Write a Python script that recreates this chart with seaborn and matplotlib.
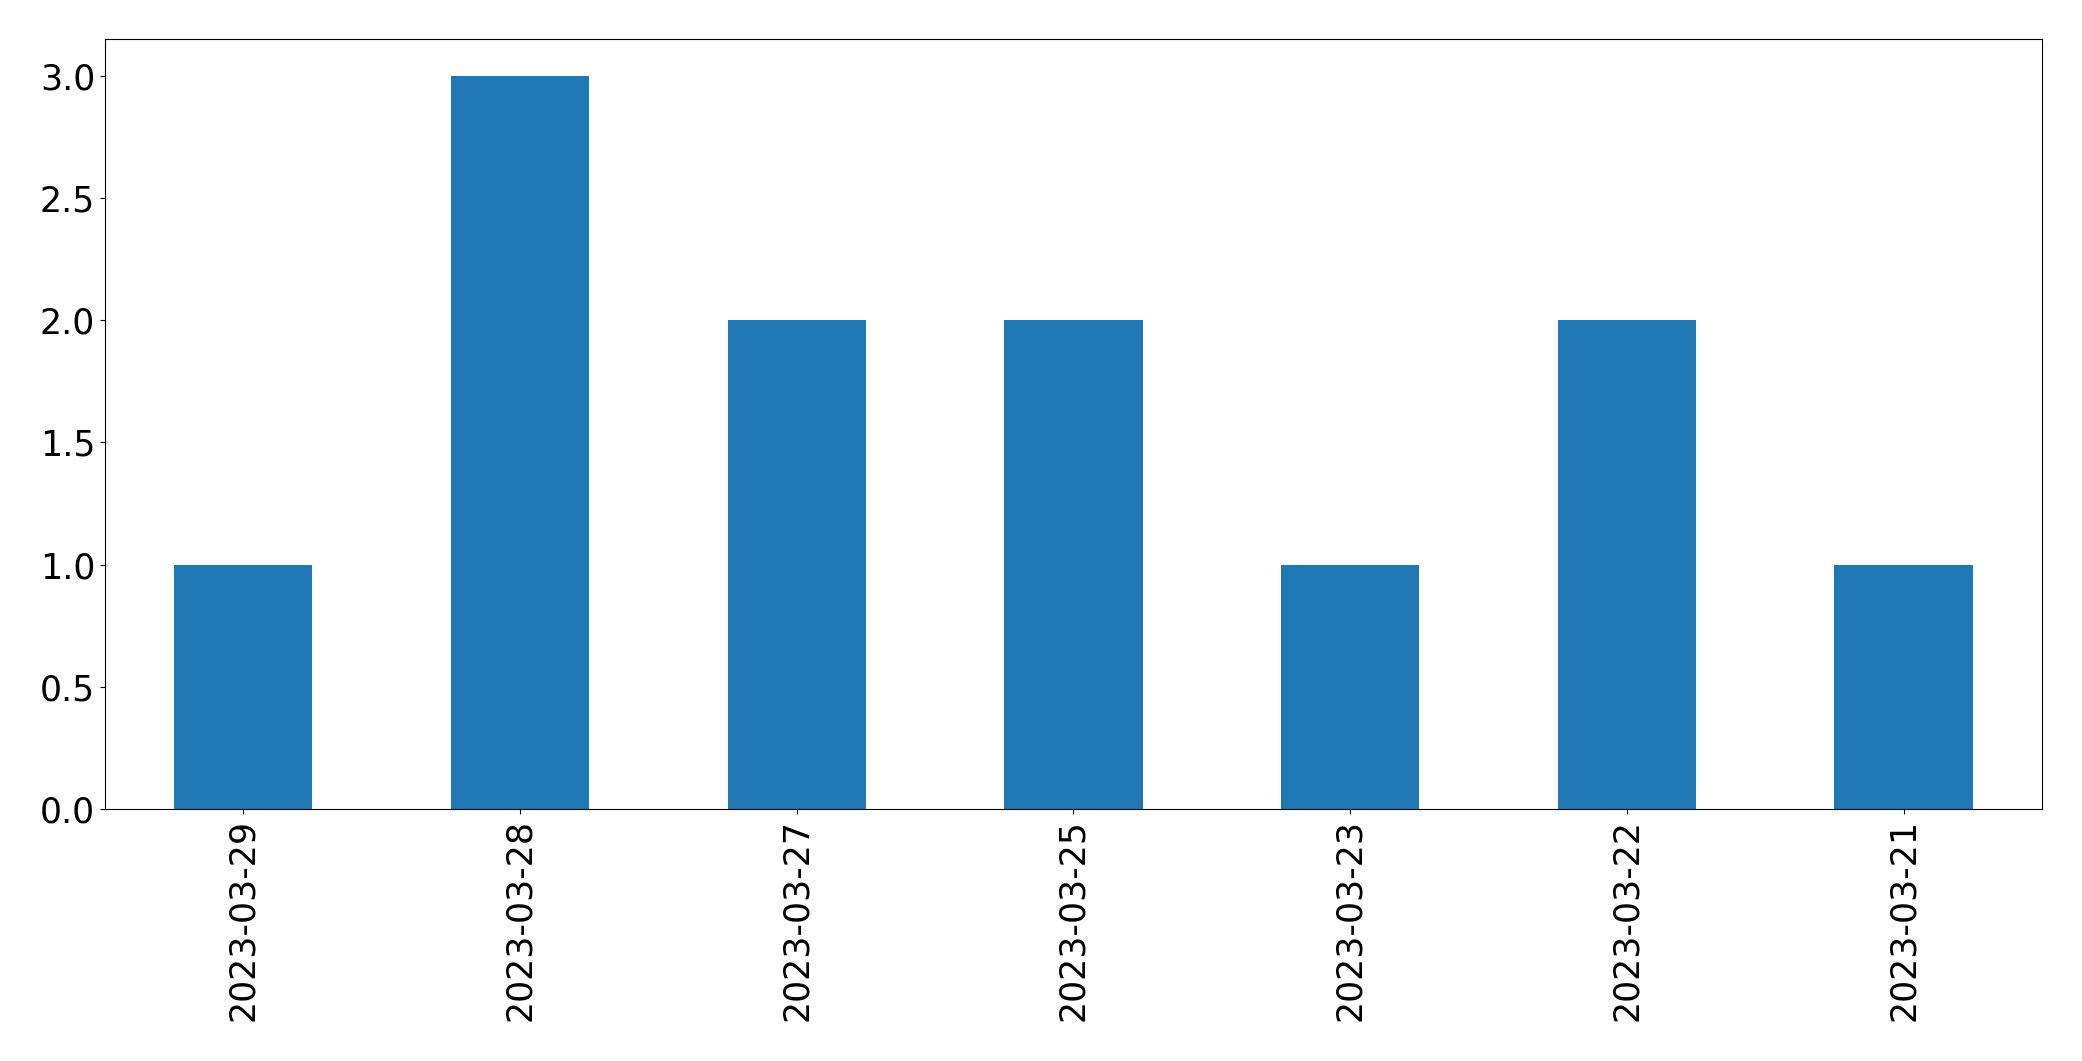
import pandas as pd
import seaborn as sns
import matplotlib.pyplot as plt

dates = ['2023-03-29', '2023-03-28', '2023-03-27', '2023-03-25',
         '2023-03-23', '2023-03-22', '2023-03-21']
counts = [1, 3, 2, 2, 1, 2, 1]

df = pd.DataFrame({'date': dates, 'count': counts})

fig, ax = plt.subplots(figsize=(20.82, 10.61), dpi=100)
sns.barplot(data=df, x='date', y='count', color='#1f77b4',
            saturation=1, width=0.5, ax=ax)
ax.set_xlabel('')
ax.set_ylabel('')
ax.tick_params(axis='both', labelsize=25)
ax.tick_params(axis='x', labelrotation=90)
ax.set_xlim(-0.5, len(dates) - 0.5)
plt.subplots_adjust(left=0.0504, right=0.9808, top=0.9632, bottom=0.2375)
plt.savefig('out.png')
